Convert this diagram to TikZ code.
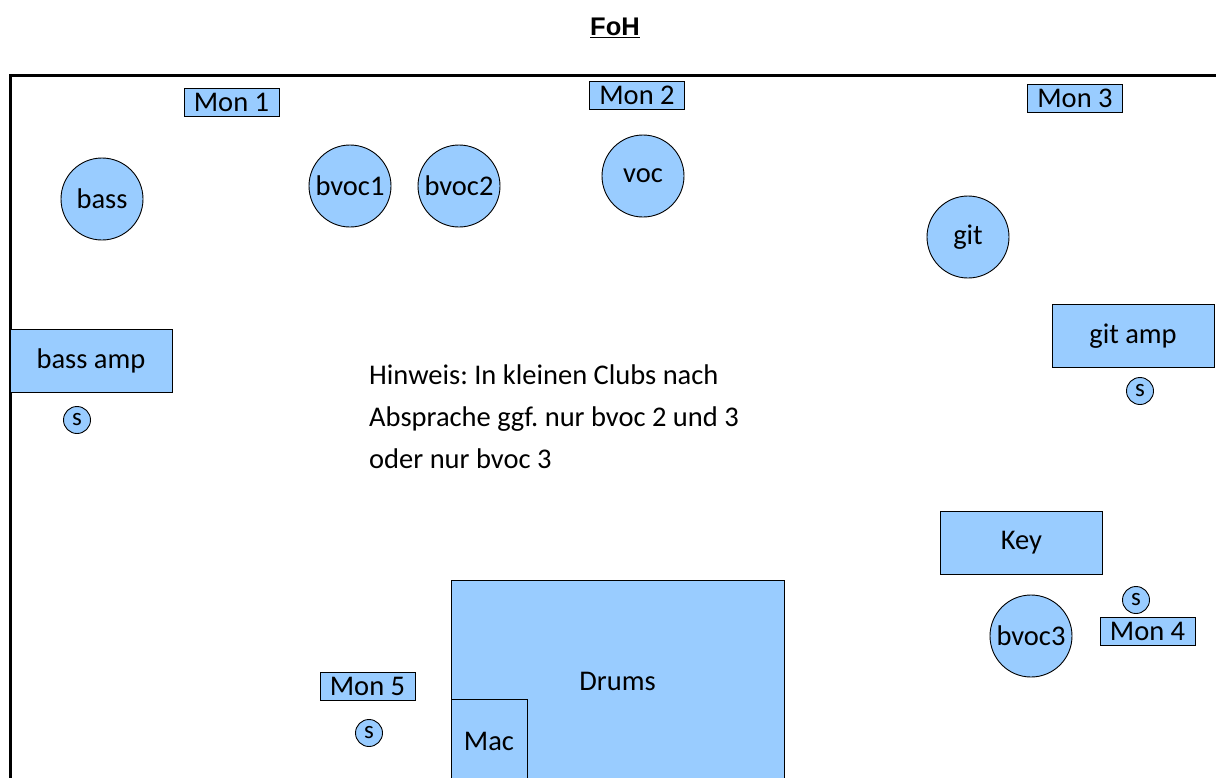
\documentclass[tikz,border=0pt]{standalone}
\usepackage{fontspec}
\setmainfont{Carlito}
\newfontfamily\titlefont{Liberation Sans}
\definecolor{stagefill}{HTML}{99CCFF}
\frenchspacing
\begin{document}
\begin{tikzpicture}[x=1pt,y=-1pt,
  every node/.style={font=\fontsize{28.5}{32}\selectfont, inner sep=0pt},
  box/.style={draw=black, line width=1pt, fill=stagefill, rectangle},
  mon/.style={box, minimum width=95pt, minimum height=28pt},
  amp/.style={box, minimum width=162pt, minimum height=63pt},
  person/.style={draw=black, line width=0.9pt, fill=stagefill, circle, minimum size=82pt},
  spk/.style={draw=black, line width=0.9pt, fill=stagefill, circle, minimum size=27pt, font=\fontsize{25}{28}\selectfont}
]
\clip (0,0) rectangle (1216,777);
\fill[white] (0,0) rectangle (1216,777);
% title
\node (foh) at (615,28) {\titlefont\fontsize{25.5}{28}\selectfont\underline{\textbf{FoH}}};
% stage border
\coordinate (bl) at (10,790);
\coordinate (tl) at (10,75);
\coordinate (tr) at (1230,75);
\draw[line width=3pt] (bl) -- (tl) -- (tr);
% monitors
\node[mon] (mon1) at (231.5,102) {Mon 1};
\node[mon] (mon2) at (637,95) {Mon 2};
\node[mon] (mon3) at (1075,98) {Mon 3};
\node[mon] (mon4) at (1147.5,631) {Mon 4};
\node[mon] (mon5) at (367.5,686) {Mon 5};
% people
\node[person] (bass) at (102,199) {bass};
\node[person] (bvoc1) at (350,186) {bvoc1};
\node[person] (bvoc2) at (459,186) {bvoc2};
\node[person] (voc) at (643,176) {voc};
\node[person] (git) at (968,237) {git};
\node[person] (bvoc3) at (1031,636) {bvoc3};
% amps
\node[amp] (bassamp) at (91,360.5) {bass amp};
\node[amp] (gitamp) at (1133,336) {git amp};
\node[amp] (key) at (1021.5,542.5) {Key};
% speakers
\node[spk] (s1) at (77,420) {s};
\node[spk] (s2) at (1140,391) {s};
\node[spk] (s3) at (1136,600) {s};
\node[spk] (s5) at (369,733) {s};
% drums
\node[box, minimum width=333pt, minimum height=202pt] (drums) at (617.5,681) {Drums};
\node[box, minimum width=76pt, minimum height=84pt] (mac) at (489,741) {Mac};
% note
\node[anchor=west, align=left, font=\fontsize{28.5}{42}\selectfont] (note) at (369,417)
  {Hinweis: In kleinen Clubs nach\\Absprache ggf. nur bvoc 2 und 3\\oder nur bvoc 3};
\end{tikzpicture}
\end{document}
